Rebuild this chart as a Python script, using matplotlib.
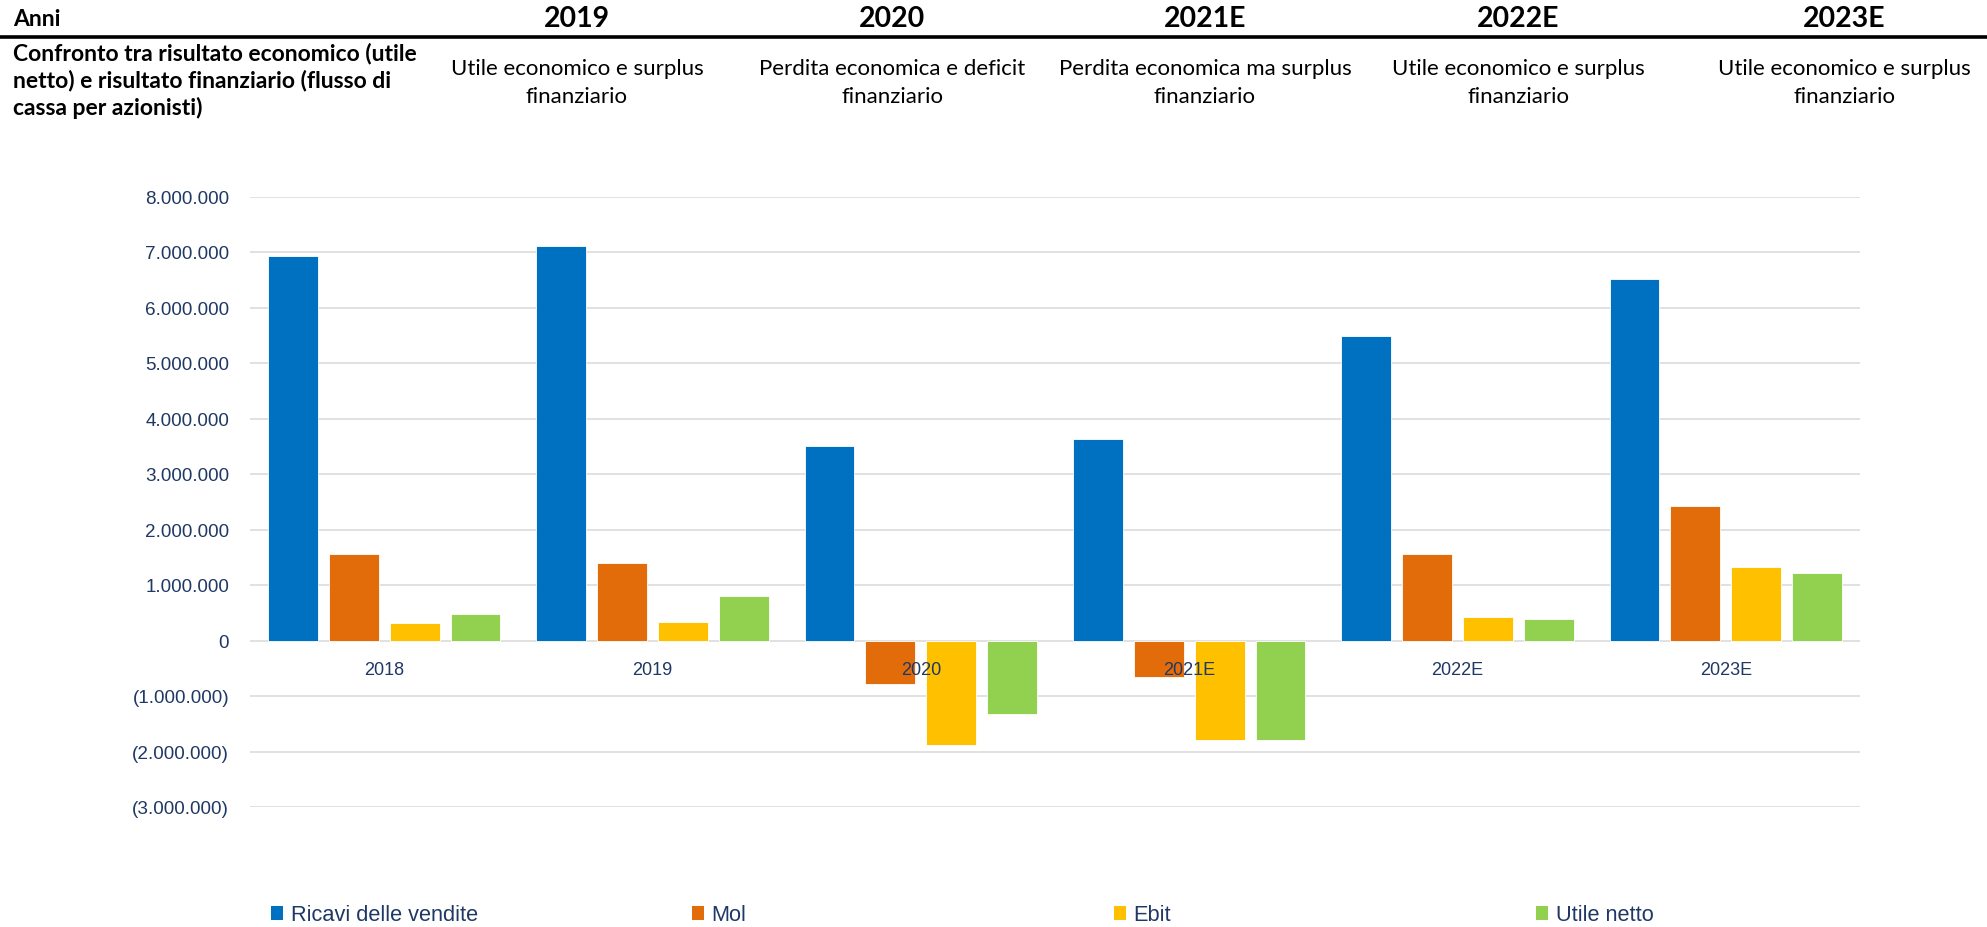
import numpy as np
import matplotlib
matplotlib.use("Agg")
import matplotlib.pyplot as plt
from matplotlib.lines import Line2D
from matplotlib.patches import Patch
from matplotlib.ticker import FuncFormatter, MultipleLocator

# --- data ---
anni = ["2018", "2019", "2020", "2021E", "2022E", "2023E"]
ricavi = [6920000, 7100000, 3500000, 3630000, 5490000, 6520000]
mol = [1560000, 1390000, -790000, -650000, 1560000, 2420000]
ebit = [310000, 330000, -1890000, -1800000, 420000, 1320000]
utile_netto = [480000, 810000, -1330000, -1800000, 390000, 1220000]

serie = ["Ricavi delle vendite", "Mol", "Ebit", "Utile netto"]
colori = ["#0070C0", "#E36C0A", "#FFC000", "#92D050"]

header_anni = ["2019", "2020", "2021E", "2022E", "2023E"]
header_giudizi = [
    "Utile economico e surplus\nfinanziario",
    "Perdita economica e deficit\nfinanziario",
    "Perdita economica ma surplus\nfinanziario",
    "Utile economico e surplus\nfinanziario",
    "Utile economico e surplus\nfinanziario",
]
header_titolo = ("Confronto tra risultato economico (utile\n"
                 "netto) e risultato finanziario (flusso di\n"
                 "cassa per azionisti)")

NAVY = "#1F3864"
W, H = 1987, 928


def fmt_it(v, pos):
    s = f"{abs(v):,.0f}".replace(",", ".")
    return f"({s})" if v < 0 else s


fig = plt.figure(figsize=(W / 100, H / 100), dpi=100)

# header table above the chart
fig.text(13 / W, 1 - 19 / H, "Anni", fontfamily="Lato", fontweight="bold",
         fontsize=16.5, ha="left", va="center")
fig.add_artist(Line2D([0, 1], [1 - 38 / H] * 2, transform=fig.transFigure,
                      color="black", lw=2.6))
fig.text(13 / W, 1 - 81 / H, header_titolo, fontfamily="Lato", fontweight="bold",
         fontsize=16.5, ha="left", va="center", linespacing=1.3)

header_x = [577, 892, 1205, 1518, 1844]
for x, anno, giudizio in zip(header_x, header_anni, header_giudizi):
    fig.text(x / W, 1 - 19 / H, anno, fontfamily="Lato", fontweight="bold",
             fontsize=20.5, ha="center", va="center")
    fig.text(x / W, 1 - 83 / H, giudizio, fontfamily="Lato", fontsize=16,
             ha="center", va="center", linespacing=1.55)

# bar chart
ax = fig.add_axes([250 / W, 1 - 808 / H, 1610 / W, 610.5 / H])
x = np.arange(len(anni))
step, width = 0.227, 0.186
for k, (vals, col) in enumerate(zip([ricavi, mol, ebit, utile_netto], colori)):
    ax.bar(x + (k - 1.5) * step, vals, width, color=col,
           edgecolor="white", linewidth=0.6, zorder=2)

ax.set_xlim(-0.5, len(anni) - 0.5)
ax.set_ylim(-3000000, 8000000)
ax.yaxis.set_major_locator(MultipleLocator(1000000))
ax.yaxis.set_major_formatter(FuncFormatter(fmt_it))
ax.yaxis.grid(True, color="#D9D9D9", lw=1.1, zorder=0)
ax.set_axisbelow(True)
for sp in ax.spines.values():
    sp.set_visible(False)
ax.set_xticks([])
ax.tick_params(axis="y", length=0, pad=15, labelsize=13.6, labelcolor=NAVY)
for lab in ax.get_yticklabels():
    lab.set_fontfamily("Liberation Sans")

# category labels sit just under the zero line
for xi, anno in zip(x, anni):
    ax.annotate(anno, xy=(xi, 0), xytext=(0, -21), textcoords="offset points",
                ha="center", va="center", fontsize=13, color=NAVY,
                fontfamily="Liberation Sans", zorder=3)

# legend, evenly spaced along the bottom
legend_x = [271, 692, 1114, 1536]
for lx, nome, col in zip(legend_x, serie, colori):
    fig.legend(handles=[Patch(facecolor=col, edgecolor="none")], labels=[nome],
               loc="center left", bbox_to_anchor=(lx / W, 1 - 916 / H),
               frameon=False, borderpad=0, borderaxespad=0,
               handlelength=0.55, handleheight=0.6, handletextpad=0.35,
               prop={"family": "Liberation Sans", "size": 15.7}, labelcolor=NAVY)

fig.savefig("out.png", dpi=100)
